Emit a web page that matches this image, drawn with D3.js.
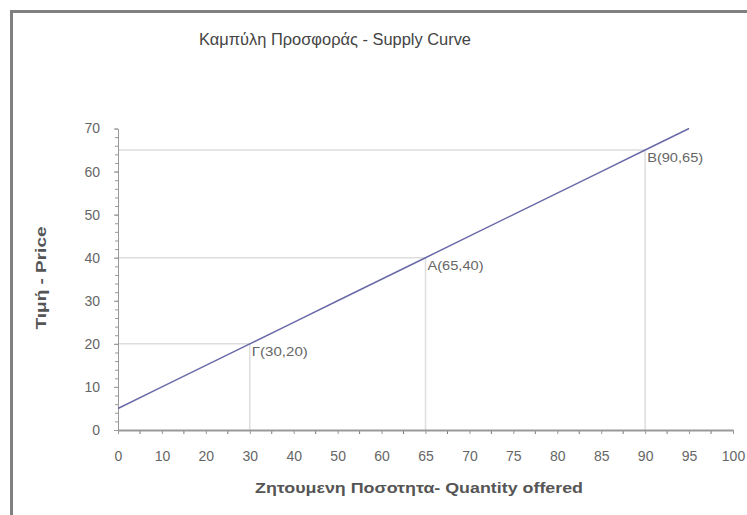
<!DOCTYPE html>
<meta charset="utf-8">
<style>
body { margin: 0; background: #fff; }
text { font-family: "Liberation Sans", Arial, sans-serif; fill: #555; }
.axis path, .axis line { stroke: #999; }
.axis text { font-size: 14px; fill: #666; }
</style>
<svg width="747" height="515"></svg>
<script src="https://d3js.org/d3.v7.min.js"></script>
<script>

// categories on the x axis (Excel category axis, evenly spaced)
var quantities = ["0", "10", "20", "30", "40", "50", "60", "65", "70", "75", "80", "85", "90", "95", "100"];
// supply curve values for each category (last category has none)
var prices = [5, 10, 15, 20, 25, 30, 35, 40, 45, 50, 55, 60, 65, 70];
var yTicks = [0, 10, 20, 30, 40, 50, 60, 70];
var pointNames = ["Γ(30,20)", "A(65,40)", "B(90,65)"];
var pointQty = ["30", "65", "90"];
var pointPrice = [20, 40, 65];

var svg = d3.select("svg");

// outer frame (only top and left edges are visible)
svg.append("path")
    .attr("d", "M11.5,515V11.5H747")
    .attr("fill", "none")
    .attr("stroke", "#808080")
    .attr("stroke-width", 3);

var x = d3.scalePoint().domain(quantities).range([118, 733]);
var y = d3.scaleLinear().domain([0, 70]).range([430, 128.5]);

// drop lines from the labelled points
var g = svg.append("g");
pointQty.forEach(function(q, i) {
  g.append("line")
      .attr("x1", x(quantities[0])).attr("x2", x(q))
      .attr("y1", y(pointPrice[i])).attr("y2", y(pointPrice[i]))
      .attr("stroke", "#ddd").attr("stroke-width", 1.5);
  g.append("line")
      .attr("x1", x(q)).attr("x2", x(q))
      .attr("y1", y(pointPrice[i])).attr("y2", y(0))
      .attr("stroke", "#ddd").attr("stroke-width", 1.5);
});

// minor y ticks
svg.append("g")
    .attr("class", "axis")
    .attr("transform", "translate(118,0)")
    .call(d3.axisLeft(y).tickValues(d3.range(0, 71, 2)).tickSize(3).tickFormat(""))
    .call(function(s) { s.select(".domain").remove(); });

svg.append("g")
    .attr("class", "axis")
    .attr("transform", "translate(118,0)")
    .call(d3.axisLeft(y).tickValues(yTicks).tickSize(4).tickSizeOuter(0).tickPadding(14))
    .call(function(s) { s.selectAll("line").attr("stroke", "#777"); });

// x axis with ticks between categories too
var mids = [];
for (var i = 0; i < quantities.length - 1; i++) mids.push((x(quantities[i]) + x(quantities[i + 1])) / 2);
svg.append("g").selectAll("line").data(mids).join("line")
    .attr("x1", function(d) { return d; }).attr("x2", function(d) { return d; })
    .attr("y1", 430).attr("y2", 434)
    .attr("stroke", "#777");

svg.append("g")
    .attr("class", "axis")
    .attr("transform", "translate(0,430)")
    .call(d3.axisBottom(x).tickSize(4).tickSizeOuter(0).tickPadding(17))
    .call(function(s) {
      s.select(".domain").attr("stroke-width", 2).attr("stroke", "#aaa");
      s.selectAll("line").attr("stroke", "#777");
    });

// supply line
var line = d3.line()
    .x(function(d, i) { return x(quantities[i]); })
    .y(function(d) { return y(d); });
svg.append("path")
    .datum(prices)
    .attr("d", line)
    .attr("fill", "none")
    .attr("stroke", "#6a6aa8")
    .attr("stroke-width", 1.5);

// point labels
svg.append("g").selectAll("text").data(pointNames).join("text")
    .attr("x", function(d, i) { return x(pointQty[i]) + 2; })
    .attr("y", function(d, i) { return y(pointPrice[i]) + 12; })
    .attr("font-size", 12)
    .attr("textLength", 56)
    .attr("lengthAdjust", "spacingAndGlyphs")
    .style("fill", "#666")
    .text(function(d) { return d; });

// titles
svg.append("text")
    .attr("x", 335).attr("y", 45)
    .attr("text-anchor", "middle")
    .attr("font-size", 16)
    .attr("textLength", 272)
    .attr("lengthAdjust", "spacingAndGlyphs")
    .style("fill", "#444")
    .text("Καμπύλη Προσφοράς - Supply Curve");

svg.append("text")
    .attr("transform", "translate(46,278) rotate(-90)")
    .attr("text-anchor", "middle")
    .attr("font-size", 14)
    .attr("font-weight", "bold")
    .attr("textLength", 103)
    .attr("lengthAdjust", "spacingAndGlyphs")
    .style("fill", "#555")
    .text("Τιμή - Price");

svg.append("text")
    .attr("x", 419).attr("y", 493)
    .attr("text-anchor", "middle")
    .attr("font-size", 15)
    .attr("font-weight", "bold")
    .attr("textLength", 328)
    .attr("lengthAdjust", "spacingAndGlyphs")
    .style("fill", "#555")
    .text("Ζητουμενη Ποσοτητα- Quantity offered");

</script>
